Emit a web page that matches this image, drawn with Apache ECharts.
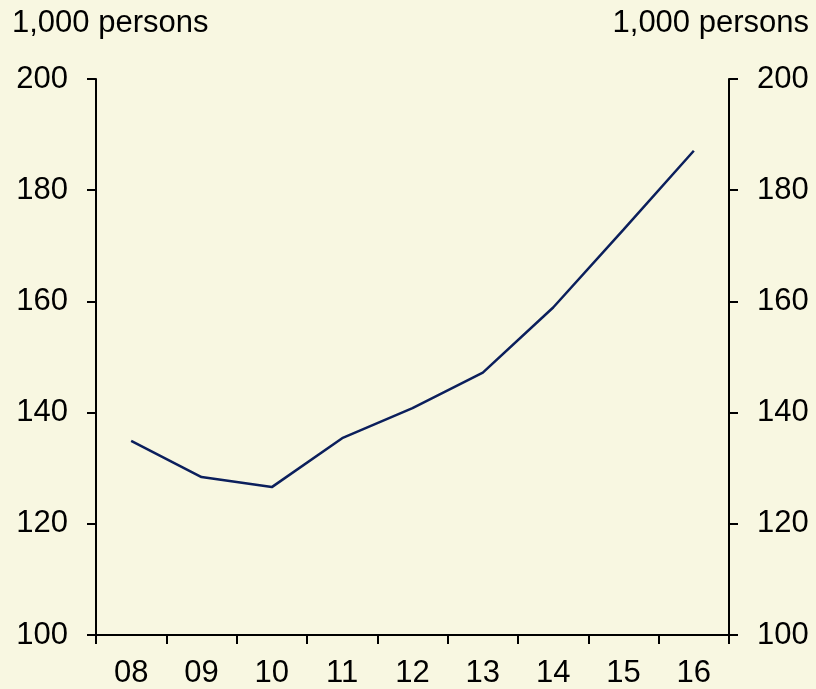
<!DOCTYPE html>
<html>
<head>
<meta charset="utf-8">
<script src="https://cdn.jsdelivr.net/npm/echarts@6/dist/echarts.min.js"></script>
<style>
  html, body { margin: 0; padding: 0; background: #f8f7e1; }
  #main { width: 816px; height: 689px; }
</style>
</head>
<body>
<div id="main"></div>
<script>
var myChart = echarts.init(document.getElementById('main'));

var years = ['08', '09', '10', '11', '12', '13', '14', '15', '16'];
var persons = [134.9, 128.4, 126.6, 135.4, 140.8, 147.2, 158.9, 172.9, 187.1];
var unitLabel = '1,000 persons';

var font = 'Liberation Sans, Arial, sans-serif';

var yAxisBase = function (pos) {
    return {
        type: 'value',
        position: pos,
        min: 100,
        max: 200,
        interval: 20,
        axisLine: { show: true, lineStyle: { color: '#000', width: 2 } },
        axisTick: { show: true, inside: false, length: 9, lineStyle: { color: '#000', width: 2 } },
        axisLabel: { color: '#000', fontSize: 31, fontFamily: font, margin: 28 },
        splitLine: { show: false }
    };
};

option = {
    backgroundColor: '#f8f7e1',
    animation: false,
    title: [
        { text: unitLabel, left: 12, top: 8, padding: 0, textStyle: { color: '#000', fontSize: 31, fontWeight: 'normal', fontFamily: font } },
        { text: unitLabel, right: 7, top: 8, padding: 0, textStyle: { color: '#000', fontSize: 31, fontWeight: 'normal', fontFamily: font } }
    ],
    grid: { left: 96, right: 87, top: 79, bottom: 53 },
    xAxis: {
        type: 'category',
        data: years,
        boundaryGap: true,
        axisLine: { lineStyle: { color: '#000', width: 2 } },
        axisTick: { show: true, length: 9, lineStyle: { color: '#000', width: 2 } },
        axisLabel: { color: '#000', fontSize: 31, fontFamily: font, margin: 23 }
    },
    yAxis: [yAxisBase('left'), yAxisBase('right')],
    series: [
        {
            name: 'persons',
            type: 'line',
            data: persons,
            symbol: 'none',
            lineStyle: { color: '#0b1f5c', width: 2.5 }
        }
    ]
};

myChart.setOption(option);
</script>
</body>
</html>
